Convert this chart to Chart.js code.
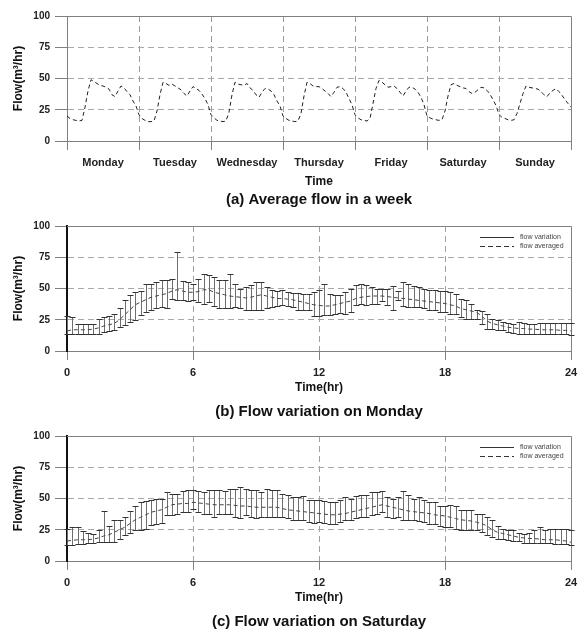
<!DOCTYPE html>
<html>
<head>
<meta charset="utf-8">
<script src="https://cdn.jsdelivr.net/npm/chart.js@4.4.1/dist/chart.umd.min.js"></script>
<style>
html, body { margin: 0; padding: 0; background: #fff; overflow: hidden; width: 584px; height: 629px; }
canvas { position: absolute; left: 0; }
</style>
</head>
<body>
<canvas id="weekChart" width="584" height="210" style="top:0px"></canvas>
<canvas id="mondayChart" width="584" height="211" style="top:210px"></canvas>
<canvas id="saturdayChart" width="584" height="211" style="top:420px"></canvas>
<script>
// ---- data ----
var dayNames = ['Monday', 'Tuesday', 'Wednesday', 'Thursday', 'Friday', 'Saturday', 'Sunday'];
var flowTicks = [0, 25, 50, 75, 100];
var hourTicks = [0, 6, 12, 18, 24];

// (a) hourly average flow, one array per day (hour 0..23)
var monFlow = [20, 18, 17, 16.5, 16, 16.5, 27, 40, 49, 47.5, 46, 44.5, 44, 43, 41.5, 37, 35.5, 40, 44, 42.5, 39.5, 37, 32, 28];
var tueFlow = [21, 18, 16.5, 15.5, 15.5, 16, 24, 37, 47, 46, 44.5, 45.5, 44, 42.5, 41, 38, 36, 40, 43.5, 42, 40.5, 37.5, 34, 29];
var wedFlow = [21, 18.5, 16.5, 16, 15.5, 16, 23, 37, 47, 45.5, 45, 44.5, 46, 42.5, 40.5, 37, 35, 39, 42, 41.5, 40, 37, 32, 28];
var thuFlow = [20, 18, 16.5, 16, 15.5, 16, 22, 36, 47, 46, 44, 43.5, 43.5, 42, 40, 38, 35.5, 39, 43, 43.5, 42, 39, 34, 29];
var friFlow = [21, 18.5, 17, 16.5, 16, 18, 30, 42, 48.5, 47, 45, 43, 43.5, 44, 42, 39, 36, 40, 43, 43, 41.5, 39, 35, 29];
var satFlow = [20, 18.5, 17.5, 17, 16.5, 17, 24, 36, 45, 46, 44.5, 43.5, 42.5, 42, 39.5, 38, 39, 41, 43, 42.5, 40.5, 37.5, 33, 28.5];
var sunFlow = [21, 19, 18, 17, 16.5, 17, 22, 30, 38, 44, 43, 42.5, 42, 41.5, 39.5, 37, 35.5, 38.5, 40.5, 42, 39.5, 36.5, 33, 30];
var weekEndFlow = 27;

// (b) Monday, every 15 minutes from 0 to 24 h
var monMean = [16, 17, 17, 17, 17, 17.5, 18.5, 20, 21, 22, 25, 29, 33, 37, 39, 41, 43, 44, 45, 46,
  48, 49, 48, 47, 47, 47.5, 49, 49, 47, 46, 45, 44, 43.5, 43, 42.5, 43, 44, 45, 44, 43,
  42, 42, 41.5, 41, 40, 39, 38, 37, 36.5, 36, 36, 37, 38, 39, 40, 42, 43, 43.5, 44, 44,
  44, 43.5, 43, 42.5, 42, 41.5, 41, 40.5, 40, 39.5, 39, 38.5, 38, 37, 36, 34, 33, 32, 31, 28,
  24, 22, 21, 20, 19, 18.5, 18, 18, 17.5, 17.5, 17, 17, 17, 17, 16.5, 16.5, 16];
var monLow = [13.3, 13.3, 13.3, 13.3, 13.3, 13.5, 14, 15.5, 16, 17, 19, 21, 23, 25, 29, 31.5, 33, 34, 35, 34,
  42, 41, 41, 40, 41, 39.5, 37.6, 39.5, 36, 34, 34, 34, 35, 34, 33, 33, 33, 33, 34, 35.5,
  36, 37, 36, 35.5, 33, 33, 33, 28, 28, 29, 29, 30, 30.7, 30, 31.5, 37, 37.6, 37, 37.6, 38,
  40, 37, 33, 41, 36, 35.5, 35.5, 35, 34, 33, 33, 31.5, 31.5, 30, 30, 27.5, 26, 26, 26, 22,
  18, 18, 17, 17, 15.5, 14.7, 14, 14, 13.6, 13.6, 13.6, 13.3, 13.3, 13.3, 13.3, 13.3, 12.8];
var monHigh = [28, 27, 21.6, 21.6, 21.6, 22, 26, 27, 28, 30, 34, 41, 45, 47.5, 48, 54, 54, 55.5, 57, 57,
  58, 79.5, 56, 55.5, 54, 58, 62, 61, 59.5, 57, 57, 61.6, 54, 50, 51, 53, 55, 55.5, 51.5, 49,
  48, 49, 47.5, 46.7, 46.7, 46, 45.6, 47.5, 49, 53.6, 46, 45, 45, 47.5, 50, 53, 53.6, 53, 51, 50,
  50, 50, 52, 48, 55.5, 53.6, 52, 51.5, 50, 49, 49, 48, 48, 47.5, 45.6, 42, 41, 38, 33, 32,
  30, 26, 25, 23.5, 22.7, 22, 23.5, 22.7, 22, 22, 22.7, 22.7, 22.7, 22.7, 22.7, 22.7, 22.7];

// (c) Saturday, every 15 minutes from 0 to 24 h
var satMean = [16, 16.5, 17, 17, 17, 17.5, 18.5, 20, 21, 23, 25, 27, 30, 33, 35, 37, 39, 40, 41, 43,
  45, 45.5, 46, 46, 47, 46.5, 46, 45.5, 45, 45, 45, 45, 44.5, 44, 44, 43.5, 43, 43, 43, 43,
  43, 42, 41, 40.5, 40, 39.5, 39, 38.5, 38, 37.5, 37, 37, 37.5, 38, 39, 40, 41, 42, 43, 44,
  45, 44, 43, 42, 41, 40, 39.5, 39, 38.5, 38, 37, 36.5, 36, 35, 34, 33, 32.5, 32, 31, 30,
  28, 25, 23, 22, 21, 20, 19, 18.5, 18, 18, 17.5, 17, 17, 17, 16.5, 16, 15];
var satLow = [12.8, 12.8, 13.6, 14, 14.7, 14.7, 15.5, 15.5, 15.5, 15.5, 18, 21, 22.7, 25, 25, 26, 29, 30, 30.7, 37,
  37, 37.6, 39.5, 39.5, 42, 39, 38, 38, 35.5, 37.6, 38, 37.6, 35.5, 34, 37, 35.5, 34, 35, 35.5, 35.5,
  35.5, 35, 34, 33, 33, 33, 31.5, 30.7, 31.5, 30.7, 30, 30, 31.5, 33, 33, 34, 35.5, 35.5, 37, 37.6,
  39, 35.5, 34, 35, 33, 33, 33, 32, 31.5, 30, 30, 28, 27.5, 27.5, 26, 25, 25, 25, 25, 23.5,
  21, 19, 18, 18, 17, 16, 16, 14.7, 14.7, 14.7, 14.7, 14.7, 14.7, 14, 14, 13.6, 12.8];
var satHigh = [26, 27, 27, 24, 22.7, 22, 25, 40, 28, 33, 33, 35.5, 40, 44, 47.5, 48, 49, 50, 50, 55.5,
  53.6, 53.6, 56, 57, 57, 56, 55.5, 57, 57, 57, 56, 58, 58, 59.5, 58, 57, 57, 55.5, 58, 57,
  57, 54, 53, 51.5, 51, 52, 49, 49, 49, 48, 47.5, 47.5, 49, 51, 50, 52, 53, 53, 55, 55.5,
  56, 51.5, 50, 51, 56, 53, 50, 51.5, 49, 47.5, 47.5, 44, 44, 45, 44, 41, 41, 41, 38, 38,
  35.5, 33, 28, 26, 25, 25, 22.7, 22, 22.7, 25, 27, 25, 25.6, 25.6, 26, 26, 25];

// ---- building the series ----
var weekFlow = [].concat(monFlow, tueFlow, wedFlow, thuFlow, friFlow, satFlow, sunFlow, [weekEndFlow]);
var weekHours = weekFlow.map(function (v, i) { return i; });
var quarterHours = monMean.map(function (v, i) { return i / 4; });

Chart.defaults.font.family = '"Liberation Sans", Arial, sans-serif';
Chart.defaults.color = '#111';

var clear = 'rgba(0,0,0,0)';

// thin grey frame on top and right of the plot
var framePlugin = {
    id: 'frame',
    beforeDatasetsDraw: function (chart) {
        var a = chart.chartArea;
        var ctx = chart.ctx;
        ctx.save();
        ctx.strokeStyle = '#808080';
        ctx.lineWidth = 1;
        ctx.beginPath();
        ctx.moveTo(Math.round(a.left), Math.round(a.top) + 0.5);
        ctx.lineTo(Math.round(a.right) + 0.5, Math.round(a.top) + 0.5);
        ctx.lineTo(Math.round(a.right) + 0.5, Math.round(a.bottom));
        ctx.stroke();
        ctx.restore();
    }
};

// vertical error bars with caps, from the dataset's errLow / errHigh
var errorBarPlugin = {
    id: 'errorBars',
    beforeDatasetsDraw: function (chart) {
        var ctx = chart.ctx;
        var xs = chart.scales.x, ys = chart.scales.y;
        chart.data.datasets.forEach(function (ds) {
            if (!ds.errLow) return;
            ctx.save();
            ctx.lineWidth = 1;
            for (var i = 0; i < ds.errLow.length; i++) {
                var x = Math.round(xs.getPixelForValue(chart.data.labels[i])) + 0.5;
                var y1 = Math.round(ys.getPixelForValue(ds.errLow[i])) + 0.5;
                var y2 = Math.round(ys.getPixelForValue(ds.errHigh[i])) + 0.5;
                ctx.strokeStyle = '#6e6e6e';
                ctx.beginPath();
                ctx.moveTo(x, y1);
                ctx.lineTo(x, y2);
                ctx.stroke();
                ctx.strokeStyle = '#333';
                ctx.beginPath();
                ctx.moveTo(x - 3, y1);
                ctx.lineTo(x + 3, y1);
                ctx.moveTo(x - 3, y2);
                ctx.lineTo(x + 3, y2);
                ctx.stroke();
            }
            ctx.restore();
        });
    }
};

// small legend drawn inside the top right corner of the plot
var innerLegendPlugin = {
    id: 'innerLegend',
    afterDatasetsDraw: function (chart) {
        var a = chart.chartArea;
        var ctx = chart.ctx;
        ctx.save();
        ctx.font = '7px "Liberation Sans", Arial, sans-serif';
        ctx.fillStyle = '#444';
        ctx.textBaseline = 'middle';
        chart.data.datasets.forEach(function (ds, i) {
            var y = Math.round(a.top + 11 + i * 9) + 0.5;
            ctx.strokeStyle = '#333';
            ctx.lineWidth = 1;
            ctx.setLineDash(ds.legendDash || []);
            ctx.beginPath();
            ctx.moveTo(a.right - 91, y);
            ctx.lineTo(a.right - 57, y);
            ctx.stroke();
            ctx.fillText(ds.label, a.right - 51, y);
        });
        ctx.restore();
    }
};

function flowAxis(axisColor, axisWidth) {
    return {
        type: 'linear',
        min: 0,
        max: 100,
        afterBuildTicks: function (s) { s.ticks = flowTicks.map(function (v) { return { value: v }; }); },
        afterFit: function (s) { s.width = 67; },
        ticks: { font: { size: 10, weight: 'bold' }, color: '#222', padding: 5 },
        grid: {
            color: function (c) { return (c.tick && (c.tick.value === 0 || c.tick.value === 100)) ? clear : '#a8a8a8'; },
            tickColor: '#808080',
            tickLength: 12
        },
        border: { color: axisColor, width: axisWidth, dash: [6, 4] },
        title: {
            display: true,
            text: 'Flow(m³/hr)',
            font: { size: 12, weight: 'bold' },
            color: '#111',
            padding: { top: 11, bottom: 11 }
        }
    };
}

// (a) average flow in a week
new Chart(document.getElementById('weekChart'), {
    type: 'line',
    data: {
        labels: weekHours,
        datasets: [{
            label: 'flow averaged',
            data: weekFlow,
            borderColor: '#222',
            borderWidth: 1,
            borderDash: [4, 3],
            pointRadius: 0,
            fill: false,
            tension: 0
        }]
    },
    options: {
        responsive: false,
        animation: false,
        layout: { padding: { top: 16, right: 13, left: 0, bottom: 1 } },
        plugins: {
            legend: { display: false },
            tooltip: { enabled: false },
            title: {
                display: true,
                position: 'bottom',
                fullSize: false,
                text: '(a) Average flow in a week',
                font: { size: 15, weight: 'bold' },
                color: '#111',
                padding: { top: 2, bottom: 0 }
            }
        },
        scales: {
            x: {
                type: 'linear',
                min: 0,
                max: 168,
                afterBuildTicks: function (s) {
                    var t = [];
                    for (var v = 0; v <= 168; v += 12) t.push({ value: v });
                    s.ticks = t;
                },
                afterFit: function (s) { s.height = 48; },
                ticks: {
                    autoSkip: false,
                    maxRotation: 0,
                    padding: 6,
                    font: { size: 11, weight: 'bold' },
                    color: '#222',
                    callback: function (v) { return v % 24 === 12 ? dayNames[(v - 12) / 24] : ''; }
                },
                grid: {
                    color: function (c) { var v = c.tick ? c.tick.value : 0; return (v % 24 === 0 && v !== 0 && v !== 168) ? '#9a9a9a' : clear; },
                    tickColor: function (c) { var v = c.tick ? c.tick.value : 0; return v % 24 === 0 ? '#808080' : clear; },
                    tickLength: 9
                },
                border: { color: '#808080', width: 1, dash: [6, 4] },
                title: { display: true, text: 'Time', font: { size: 12, weight: 'bold' }, color: '#111', padding: { top: 5, bottom: 0 } }
            },
            y: flowAxis('#808080', 1)
        }
    },
    plugins: [framePlugin]
});

function dayChart(id, mean, low, high, caption) {
    return new Chart(document.getElementById(id), {
        type: 'line',
        data: {
            labels: quarterHours,
            datasets: [{
                label: 'flow variation',
                data: mean,
                errLow: low,
                errHigh: high,
                legendDash: [],
                showLine: false,
                pointRadius: 0
            }, {
                label: 'flow averaged',
                data: mean,
                legendDash: [5, 3],
                borderColor: '#444',
                borderWidth: 1,
                borderDash: [4, 3],
                pointRadius: 0,
                fill: false,
                tension: 0
            }]
        },
        options: {
            responsive: false,
            animation: false,
            layout: { padding: { top: 16, right: 13, left: 0, bottom: 0.5 } },
            plugins: {
                legend: { display: false },
                tooltip: { enabled: false },
                title: {
                    display: true,
                    position: 'bottom',
                    fullSize: false,
                    text: caption,
                    font: { size: 15, weight: 'bold' },
                    color: '#111',
                    padding: { top: 7.5, bottom: 0 }
                }
            },
            scales: {
                x: {
                    type: 'linear',
                    min: 0,
                    max: 24,
                    afterBuildTicks: function (s) { s.ticks = hourTicks.map(function (v) { return { value: v }; }); },
                    afterFit: function (s) { s.height = 44; },
                    ticks: { autoSkip: false, maxRotation: 0, padding: 6, font: { size: 11, weight: 'bold' }, color: '#222' },
                    grid: {
                        color: function (c) { var v = c.tick ? c.tick.value : 0; return (v === 0 || v === 24) ? clear : '#a0a0a0'; },
                        tickColor: '#808080',
                        tickLength: 9
                    },
                    border: { color: '#808080', width: 1, dash: [6, 4] },
                    title: { display: true, text: 'Time(hr)', font: { size: 12, weight: 'bold' }, color: '#111', padding: { top: 1, bottom: 0 } }
                },
                y: flowAxis('#111', 2)
            }
        },
        plugins: [framePlugin, errorBarPlugin, innerLegendPlugin]
    });
}

dayChart('mondayChart', monMean, monLow, monHigh, '(b) Flow variation on Monday');
dayChart('saturdayChart', satMean, satLow, satHigh, '(c) Flow variation on Saturday');
</script>
</body>
</html>
